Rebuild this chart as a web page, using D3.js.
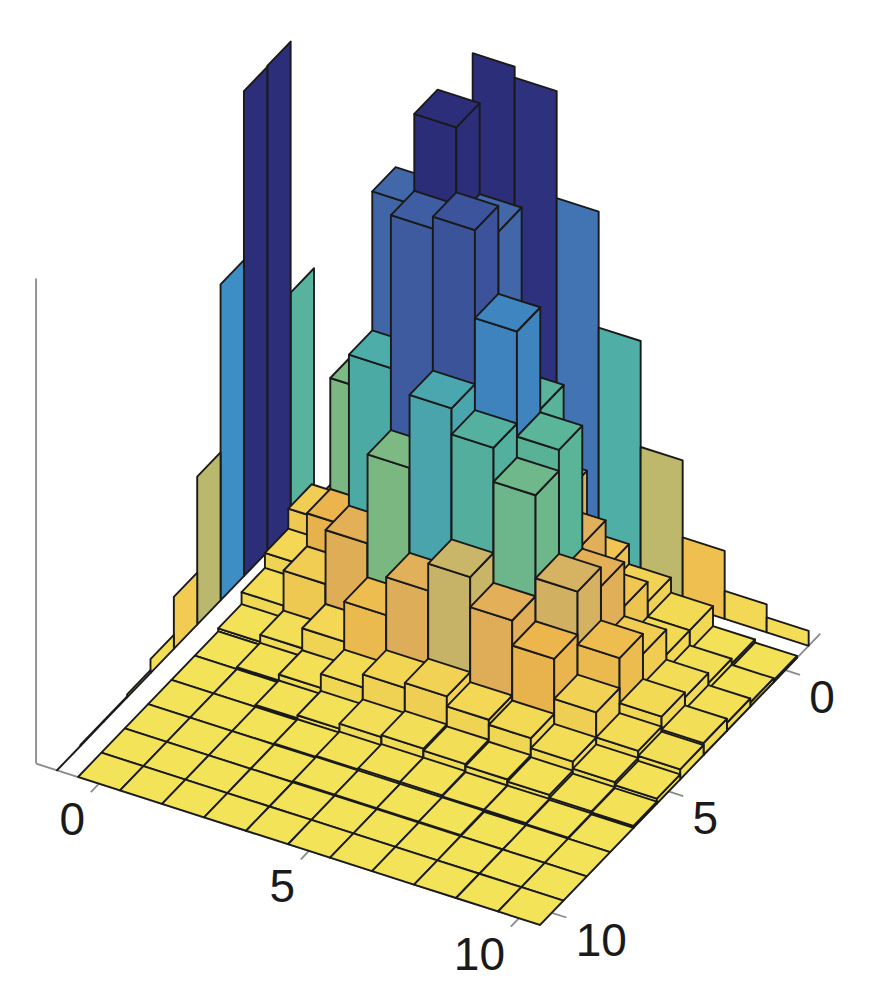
<!DOCTYPE html>
<html><head><meta charset="utf-8">
<script src="https://cdn.jsdelivr.net/npm/d3@7"></script>
<style>html,body{margin:0;padding:0;background:#fff}svg{display:block}</style>
</head><body>
<svg id="chart" width="870" height="988"></svg>
<script>
// ---- data (counts) ----
const uCategories = [0,1,2,3,4,5,6,7,8,9,10];
const vCategories = [0,1,2,3,4,5,6,7,8,9,10];
const tickValues = [0,5,10];
// heights per row v (each array runs over u = 0..10)
const rowV0  = [6, 16, 30, 50, 38, 24, 12, 8, 5, 1, 0.4];
const rowV1  = [10, 38.8, 78.8, 97, 78.8, 46, 21.6, 12, 5, 2, 0.8];
const rowV2  = [6, 16.6, 51, 81.6, 84, 66.4, 45.4, 20.8, 10, 4, 1.6];
const rowV3  = [3, 10, 20.8, 38.6, 53.2, 48, 41.2, 24.6, 14, 5, 2.4];
const rowV4  = [0.6, 2, 6, 14, 21.6, 27, 21, 16, 8, 3, 2];
const rowV5  = [0, 0.4, 1.6, 4.4, 7, 8, 6, 5, 3, 1.6, 1];
const rowV6  = [0, 0, 0.4, 1, 2, 2.4, 2, 1.6, 1.2, 0.6, 0.4];
const rowV7  = [0, 0, 0, 0.2, 0.4, 0.6, 0.6, 0.4, 0.4, 0.2, 0];
const rowV8  = [0, 0, 0, 0, 0.2, 0.2, 0.2, 0.2, 0, 0, 0];
const rowV9  = [0, 0, 0, 0, 0, 0, 0, 0, 0, 0, 0];
const rowV10 = [0, 0, 0, 0, 0, 0, 0, 0, 0, 0, 0];
// projections drawn on the back walls
const leftWall  = [47, 97.2, 97, 63.2, 29.6, 10.4, 2.8, 0.6, 0.2, 0.2, 0];     // over v
const rightWall = [8.6, 28.2, 63.8, 97, 94.8, 73.4, 50.2, 29, 13.6, 5.6, 3];   // over u

const rows = [rowV0,rowV1,rowV2,rowV3,rowV4,rowV5,rowV6,rowV7,rowV8,rowV9,rowV10];

// ---- projection ----
const zScale = d3.scaleLinear().domain([0, 97]).range([0, 485]);
const uPos = d3.scaleLinear().domain([-0.5, 10.5]).range([0, 11]);
const vPos = d3.scaleLinear().domain([-0.5, 10.5]).range([0, 11]);
const origin = [335, 510];
const Uvec = [42, 13.45], Vvec = [-23.36, 24.27];
function P(u, v, z) {
  const a = uPos(u), b = vPos(v);
  return [origin[0] + a*Uvec[0] + b*Vvec[0],
          origin[1] + a*Uvec[1] + b*Vvec[1] - zScale(z)];
}

// ---- colour map (tall = dark blue, low = yellow) ----
const cStops = [
  [0.00,"#f3e358"],[0.05,"#f3da55"],[0.10,"#f2ce53"],[0.14,"#efbf4f"],
  [0.18,"#eab14c"],[0.22,"#e2b05a"],[0.26,"#d4b465"],[0.29,"#c4b76b"],
  [0.33,"#a9ba6e"],[0.40,"#7cba84"],[0.46,"#5db697"],[0.52,"#4eaea6"],
  [0.58,"#469fb8"],[0.65,"#3e8ec6"],[0.72,"#417bba"],[0.80,"#446cad"],
  [0.88,"#3a4f98"],[0.94,"#2f3684"],[1.00,"#2c2e7a"]];
const colorScale = d3.scaleLinear()
  .domain(cStops.map(d => d[0]*97))
  .range(cStops.map(d => d[1]))
  .interpolate(d3.interpolateRgb).clamp(true);

const svg = d3.select("#chart");
const line = pts => "M" + pts.map(p => p[0].toFixed(2)+","+p[1].toFixed(2)).join("L") + "Z";
const EDGE = "#1a1a1a", EW = 1.9;

// ---- axes box lines ----
const axisG = svg.append("g").attr("stroke", "#8a8a8a").attr("stroke-width", 1.8).attr("fill", "none");
const c0 = P(-1.5, 10.5, 0);
axisG.append("line").attr("x1", c0[0]).attr("y1", c0[1])
  .attr("x2", c0[0]).attr("y2", P(-1.5, 10.5, 97)[1]);
const cf = P(10.5, 10.5, 0), cr = P(10.5, -1.5, 0);
axisG.append("path").attr("d", `M${c0[0]},${c0[1]}L${cf[0]},${cf[1]}L${cr[0]},${cr[1]}`);
tickValues.forEach(t => {
  const a = P(t, 10.5, 0), b = P(t, 10.85, 0);
  axisG.append("line").attr("x1", a[0]).attr("y1", a[1]).attr("x2", b[0]).attr("y2", b[1]);
  const c = P(10.5, t, 0), d = P(10.85, t, 0);
  axisG.append("line").attr("x1", c[0]).attr("y1", c[1]).attr("x2", d[0]).attr("y2", d[1]);
});

// ---- walls ----
const wallG = svg.append("g").attr("stroke", EDGE).attr("stroke-width", EW).attr("stroke-linejoin", "round");
vCategories.forEach((v, i) => {
  const h = leftWall[i];
  wallG.append("path").attr("fill", colorScale(h))
    .attr("d", line([P(-1, v-0.5, 0), P(-1, v+0.5, 0), P(-1, v+0.5, h), P(-1, v-0.5, h)]));
});
uCategories.forEach((u, i) => {
  const h = rightWall[i];
  wallG.append("path").attr("fill", colorScale(h))
    .attr("d", line([P(u-0.5, -1, 0), P(u+0.5, -1, 0), P(u+0.5, -1, h), P(u-0.5, -1, h)]));
});

// ---- bars (painter's order: back to front) ----
const cells = [];
vCategories.forEach((v, j) => uCategories.forEach((u, i) => cells.push({u, v, h: rows[j][i]})));
cells.sort((a, b) => (a.u + a.v) - (b.u + b.v) || a.u - b.u);
const barG = svg.append("g").attr("stroke", EDGE).attr("stroke-width", EW).attr("stroke-linejoin", "round");
cells.forEach(c => {
  const u0 = c.u - 0.5, u1 = c.u + 0.5, v0 = c.v - 0.5, v1 = c.v + 0.5, h = c.h;
  const col = d3.color(colorScale(h));
  const g = barG.append("g");
  if (h > 0) {
    g.append("path").attr("fill", col.darker(0.05).formatHex())
      .attr("d", line([P(u0, v1, 0), P(u1, v1, 0), P(u1, v1, h), P(u0, v1, h)]));
    g.append("path").attr("fill", col.darker(0.02).formatHex())
      .attr("d", line([P(u1, v0, 0), P(u1, v1, 0), P(u1, v1, h), P(u1, v0, h)]));
  }
  g.append("path").attr("fill", col.formatHex())
    .attr("d", line([P(u0, v0, h), P(u1, v0, h), P(u1, v1, h), P(u0, v1, h)]));
});

// ---- tick labels ----
const labG = svg.append("g").attr("font-family", "'Liberation Sans', Arial, Helvetica, sans-serif")
  .attr("font-size", 46).attr("fill", "#1a1a1a");
tickValues.forEach(t => {
  const a = P(t, 10.5, 0);
  labG.append("text").attr("x", a[0] - 14).attr("y", a[1] + 35.5)
    .attr("text-anchor", "end").attr("dominant-baseline", "central").text(t);
  const b = P(10.5, t, 0);
  labG.append("text").attr("x", b[0] + 24).attr("y", b[1] + 27)
    .attr("text-anchor", "start").attr("dominant-baseline", "central").text(t);
});
</script>
</body></html>
